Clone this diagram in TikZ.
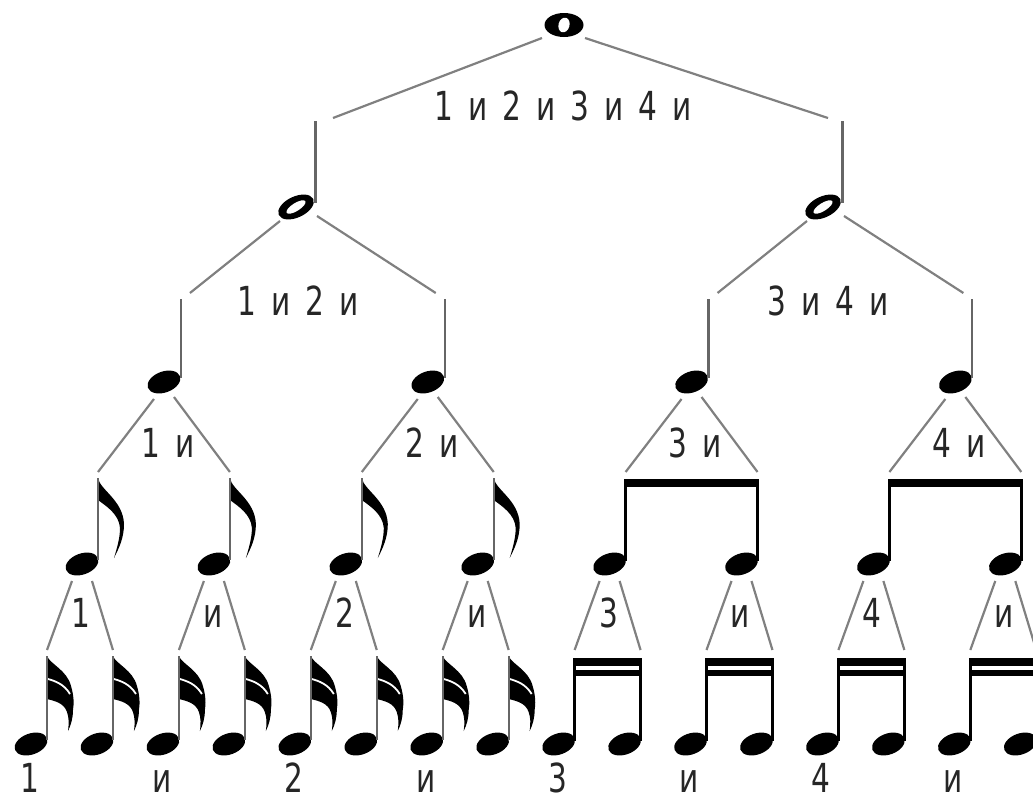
\documentclass[tikz,border=0pt]{standalone}
\usepackage{fontspec}
\newfontfamily\labfont[FakeStretch=0.74,WordSpace=1.6]{DejaVu Sans}
\begin{document}
\begin{tikzpicture}[x=1pt,y=-1pt,
  conn/.style={draw=black!50, line width=2.2pt},
  gstem/.style={draw=black!60, line width=2.2pt},
  bstem/.style={draw=black, line width=3pt},
  lab/.style={font=\labfont\fontsize{40}{44}\selectfont, text=black!85, inner sep=0pt, anchor=base},
  eflag/.pic={\fill (0,0) .. controls (2,12) and (25,22) .. (26,46) .. controls (26,60) and (21,70) .. (16,80) .. controls (19,70) and (22,60) .. (22,50) .. controls (21,36) and (8,28) .. (0,22) -- cycle;},
  sflag/.pic={\fill (0,0) .. controls (3,8) and (20,14) .. (24,30) .. controls (27,40) and (27,48) .. (26,54) .. controls (26,62) and (24,69) .. (21,75) .. controls (22,67) and (22,62) .. (20,56) .. controls (17,47) and (8,45) .. (0,43) -- cycle;
    \draw[white, line width=1.8pt] (1,23) .. controls (8,25) and (17,28) .. (23,38);}
]
\useasboundingbox (0,0) rectangle (1033,803);
\clip (0,0) rectangle (1033,803);

% ---------- whole note ----------
\coordinate (W) at (564,25);
\fill (W) ellipse (19.5 and 12);
\fill[white, rotate around={-15:(W)}] (W) ellipse (5.5 and 7.5);
\coordinate (W-l) at (542,38);
\coordinate (W-r) at (585,38);
\coordinate (H1-in) at (333,118);
\coordinate (H2-in) at (828,118);
\draw[conn] (W-l) -- (H1-in);
\draw[conn] (W-r) -- (H2-in);
\node[lab] (Lw) at (563,120) {1 и 2 и 3 и 4 и};

% ---------- half notes ----------
\foreach \n/\hx/\lx/\t in {1/296/298/{1 и 2 и}, 2/823/828/{3 и 4 и}} {
  \coordinate (H\n) at (\hx,207);
  \fill[rotate around={25:(H\n)}] (H\n) ellipse (19 and 10.5);
  \fill[white, rotate around={32:(H\n)}] (H\n) ellipse (11 and 4);
  \coordinate (H\n-s) at (\hx+19.5,121);
  \coordinate (H\n-b) at (\hx+19.5,203);
  \draw[gstem] (H\n-s) -- (H\n-b);
  \coordinate (H\n-l) at (\hx-16,221);
  \coordinate (H\n-r) at (\hx+21,216);
  \node[lab] (Lh\n) at (\lx,315) {\t};
}

% ---------- quarter notes ----------
\foreach \i/\t in {0/1 и, 1/2 и, 2/3 и, 3/4 и} {
  \pgfmathsetmacro\qx{163.95+263.8*\i}
  \pgfmathsetmacro\qin{\qx+17+9*(1-2*mod(\i,2))}
  \pgfmathtruncatemacro\hp{floor(\i/2)+1}
  \coordinate (Q\i) at (\qx,382);
  \fill[rotate around={20:(Q\i)}] (Q\i) ellipse (17 and 10.5);
  \coordinate (Q\i-s) at (\qx+17,299);
  \coordinate (Q\i-b) at (\qx+17,378);
  \draw[gstem] (Q\i-s) -- (Q\i-b);
  \coordinate (Q\i-in) at (\qin,293);
  \ifodd\i
    \draw[conn] (H\hp-r) -- (Q\i-in);
  \else
    \draw[conn] (H\hp-l) -- (Q\i-in);
  \fi
  \coordinate (Q\i-l) at (\qx-10,399);
  \coordinate (Q\i-r) at (\qx+10,397);
  \node[lab] (Lq\i) at (\qx+4,457) {\t};
}

% ---------- eighth notes ----------
\foreach \k/\t in {0/1, 1/и, 2/2, 3/и, 4/3, 5/и, 6/4, 7/и} {
  \pgfmathsetmacro\es{98+131.9*\k}
  \pgfmathsetmacro\esn{98+131.9*(\k+1)}
  \pgfmathsetmacro\ehx{\es-16}
  \pgfmathtruncatemacro\qp{floor(\k/2)}
  \coordinate (E\k) at (\ehx,564);
  \coordinate (E\k-in) at (\es,472);
  \ifodd\k
    \draw[conn] (Q\qp-r) -- (E\k-in);
  \else
    \draw[conn] (Q\qp-l) -- (E\k-in);
  \fi
  \fill[rotate around={20:(E\k)}] (E\k) ellipse (17 and 10.5);
  \ifnum\k<4
    \coordinate (E\k-s) at (\es,478);
    \coordinate (E\k-b) at (\es,560);
    \pic at (E\k-s) {eflag};
    \draw[gstem] (E\k-s) -- (E\k-b);
  \else
    \coordinate (E\k-s) at (\es,479);
    \coordinate (E\k-b) at (\es,561);
    \ifodd\k\else
      \fill (\es-1.5,479) rectangle (\esn+1.5,487);
    \fi
    \draw[bstem] (E\k-s) -- (E\k-b);
  \fi
  \coordinate (E\k-l) at (\ehx-10,581);
  \coordinate (E\k-r) at (\ehx+10,581);
  \node[lab] (Le\k) at (\ehx-1,627) {\t};
  \node[lab] (Lb\k) at (\es-68,792) {\t};
}

% ---------- sixteenth notes ----------
\foreach \j in {0,...,15} {
  \pgfmathsetmacro\ss{47+65.95*\j}
  \pgfmathsetmacro\ssn{47+65.95*(\j+1)}
  \pgfmathtruncatemacro\ep{floor(\j/2)}
  \coordinate (S\j) at (\ss-16,744);
  \coordinate (S\j-in) at (\ss,650);
  \ifodd\j
    \draw[conn] (E\ep-r) -- (S\j-in);
  \else
    \draw[conn] (E\ep-l) -- (S\j-in);
  \fi
  \fill[rotate around={20:(S\j)}] (S\j) ellipse (17 and 10.5);
  \ifnum\j<8
    \coordinate (S\j-s) at (\ss,656);
    \coordinate (S\j-b) at (\ss,740);
    \pic at (S\j-s) {sflag};
    \draw[gstem] (S\j-s) -- (S\j-b);
  \else
    \coordinate (S\j-s) at (\ss,658);
    \coordinate (S\j-b) at (\ss,741);
    \ifodd\j\else
      \fill (\ss-1.5,658) rectangle (\ssn+1.5,666);
      \fill (\ss-1.5,670) rectangle (\ssn+1.5,676);
    \fi
    \draw[bstem] (S\j-s) -- (S\j-b);
  \fi
}
\end{tikzpicture}
\end{document}
